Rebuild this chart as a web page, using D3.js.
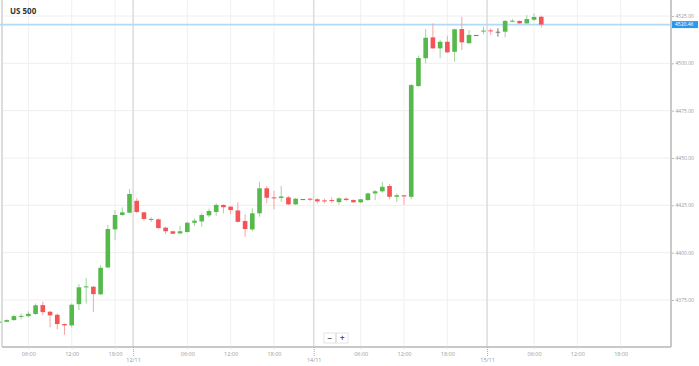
<!DOCTYPE html>
<html>
<head>
<meta charset="utf-8">
<script src="https://cdn.jsdelivr.net/npm/d3@7"></script>
<style>
  body { margin: 0; background: #fff; }
  svg { display: block; font-family: "Open Sans", "DejaVu Sans", sans-serif; }
</style>
</head>
<body>
<div id="chart"></div>
<script>
(function(d3) {
  'use strict';

  // hourly candles, left to right
  var opens = [4363.0, 4363.5, 4364.4, 4366.4, 4366.5, 4367.6, 4372.3, 4368.8, 4367.2, 4362.3,
    4361.6, 4372.8, 4381.7, 4382.0, 4378.0, 4392.2, 4412.3, 4419.9, 4421.1, 4427.4,
    4421.3, 4417.6, 4417.6, 4413.2, 4411.3, 4410.2, 4410.9, 4415.8, 4416.5, 4419.7,
    4421.5, 4425.2, 4424.3, 4422.3, 4416.7, 4412.3, 4420.8, 4434.0, 4429.2, 4428.9,
    4429.2, 4425.5, 4428.3, 4428.5, 4428.2, 4427.6, 4427.8, 4426.7, 4428.5, 4427.8,
    4426.6, 4427.8, 4431.3, 4432.4, 4435.2, 4429.5, 4430.3, 4429.5, 4488.0, 4502.7,
    4513.7, 4507.9, 4511.4, 4506.1, 4518.1, 4510.6, 4515.0, 4517.1, 4517.4, 4516.7,
    4516.7, 4522.4, 4522.4, 4521.1, 4523.0, 4524.6];
  var highs = [4364.0, 4364.8, 4367.2, 4367.9, 4369.0, 4373.2, 4374.1, 4369.3, 4367.9, 4362.6,
    4373.2, 4383.4, 4386.6, 4382.4, 4393.5, 4414.6, 4422.5, 4423.9, 4433.6, 4428.8,
    4421.6, 4418.7, 4418.1, 4413.7, 4411.4, 4414.1, 4416.3, 4418.1, 4420.8, 4423.2,
    4426.1, 4425.5, 4424.6, 4426.6, 4420.2, 4423.4, 4437.5, 4435.3, 4432.7, 4435.2,
    4429.9, 4428.9, 4428.3, 4428.9, 4428.7, 4428.5, 4429.2, 4429.2, 4429.2, 4428.2,
    4428.5, 4431.7, 4433.1, 4437.3, 4436.2, 4431.3, 4430.3, 4489.1, 4504.1, 4518.1,
    4521.1, 4512.3, 4514.6, 4518.3, 4524.6, 4517.6, 4515.0, 4519.3, 4518.5, 4518.5,
    4522.9, 4523.4, 4522.6, 4525.5, 4526.4, 4525.2];
  var lows = [4362.6, 4363.3, 4364.0, 4364.8, 4365.7, 4367.2, 4366.9, 4360.5, 4359.5, 4356.6,
    4360.5, 4369.7, 4373.2, 4368.6, 4377.6, 4392.0, 4406.7, 4419.4, 4420.9, 4420.8,
    4416.9, 4416.2, 4412.6, 4409.8, 4409.8, 4409.8, 4410.6, 4414.1, 4413.7, 4418.7,
    4419.4, 4420.8, 4420.4, 4415.9, 4408.4, 4411.4, 4419.0, 4426.1, 4422.9, 4426.9,
    4425.2, 4425.2, 4428.3, 4427.1, 4426.1, 4426.1, 4426.4, 4425.3, 4427.4, 4426.4,
    4426.1, 4427.4, 4427.8, 4431.7, 4428.2, 4426.7, 4425.2, 4428.2, 4487.5, 4500.0,
    4507.7, 4502.7, 4505.6, 4500.9, 4507.0, 4510.6, 4515.0, 4515.3, 4515.0, 4514.1,
    4513.7, 4521.7, 4520.9, 4520.9, 4522.4, 4518.8];
  var closes = [4363.6, 4364.4, 4366.5, 4366.6, 4367.7, 4372.2, 4368.6, 4366.9, 4362.3, 4361.6,
    4372.5, 4381.7, 4382.2, 4378.1, 4392.0, 4412.5, 4419.9, 4421.3, 4431.0, 4421.5,
    4417.8, 4417.8, 4413.0, 4411.3, 4410.0, 4411.3, 4415.8, 4416.9, 4419.9, 4422.0,
    4425.2, 4424.0, 4422.5, 4416.3, 4412.5, 4420.8, 4434.0, 4429.0, 4429.0, 4429.7,
    4425.5, 4428.5, 4428.3, 4428.2, 4427.1, 4427.1, 4427.3, 4428.7, 4427.8, 4426.6,
    4428.2, 4431.3, 4432.4, 4434.8, 4429.5, 4430.3, 4429.7, 4488.5, 4502.8, 4513.5,
    4507.9, 4511.4, 4505.8, 4518.0, 4511.1, 4515.0, 4515.0, 4517.3, 4517.1, 4516.7,
    4522.4, 4522.5, 4521.1, 4523.4, 4524.5, 4520.46];

  // axis ticks, in candle slots
  var timeTicks = [4, 10, 16, 26, 32, 38, 50, 56, 62, 74, 80, 86];
  var timeLabels = ['06:00', '12:00', '18:00', '06:00', '12:00', '18:00',
    '06:00', '12:00', '18:00', '06:00', '12:00', '18:00'];
  var dateTicks = [18.5, 43.5, 67.5];
  var dateLabels = ['12/11', '14/11', '15/11'];
  var priceTicks = [4375, 4400, 4425, 4450, 4475, 4500, 4525];

  var width = 699;
  var height = 366;
  var plotLeft = 2, plotRight = 671, plotTop = 0, plotBottom = 347;

  var candles = opens.map(function(o, i) {
    return { slot: i, open: o, high: highs[i], low: lows[i], close: closes[i] };
  });

  var x = d3.scaleLinear().domain([0.35, 92.96]).range([plotLeft, plotRight]);
  var y = d3.scaleLinear().domain([4375, 4525]).range([300, 16]);
  var step = x(1) - x(0);
  var bodyW = step * 0.64;

  var green = '#55b94b', red = '#f45457', flat = '#777';
  var greenWick = '#9fd69a', redWick = '#f7a4a6';

  var svg = d3.select('#chart')
    .append('svg')
    .attr('width', width)
    .attr('height', height);

  svg.append('clipPath').attr('id', 'plot-clip')
    .append('rect')
    .attr('x', 0).attr('y', plotTop)
    .attr('width', plotRight).attr('height', plotBottom - plotTop);

  // grid
  var grid = svg.append('g');
  grid.selectAll('.hgrid')
    .data(priceTicks)
    .enter()
    .append('line')
    .attr('x1', plotLeft).attr('x2', plotRight)
    .attr('y1', function(d) { return y(d); })
    .attr('y2', function(d) { return y(d); })
    .attr('stroke', '#eeeeee');
  grid.selectAll('.vgrid')
    .data(timeTicks)
    .enter()
    .append('line')
    .attr('x1', function(d) { return x(d); })
    .attr('x2', function(d) { return x(d); })
    .attr('y1', plotTop).attr('y2', plotBottom)
    .attr('stroke', '#f0f0f0');
  grid.selectAll('.dgrid')
    .data(dateTicks)
    .enter()
    .append('line')
    .attr('x1', function(d) { return x(d); })
    .attr('x2', function(d) { return x(d); })
    .attr('y1', plotTop).attr('y2', plotBottom)
    .attr('stroke', '#dcdcdc')
    .attr('stroke-width', 1.5);

  // title
  svg.append('text')
    .attr('x', 10).attr('y', 14)
    .attr('font-size', 8)
    .attr('font-weight', 'bold')
    .attr('fill', '#333')
    .text('US 500');

  // current price line
  var last = candles[candles.length - 1];
  svg.append('line')
    .attr('x1', 0).attr('x2', plotRight)
    .attr('y1', y(last.close)).attr('y2', y(last.close))
    .attr('stroke', '#b3d9f7')
    .attr('stroke-width', 1.8);

  // candles
  var plot = svg.append('g').attr('clip-path', 'url(#plot-clip)');
  var candle = plot.selectAll('.candle')
    .data(candles)
    .enter()
    .append('g');

  function colorOf(d, wick) {
    if (d.close > d.open) return wick ? greenWick : green;
    if (d.close < d.open) return wick ? redWick : red;
    return flat;
  }

  candle.append('line')
    .attr('x1', function(d) { return x(d.slot); })
    .attr('x2', function(d) { return x(d.slot); })
    .attr('y1', function(d) { return y(d.high); })
    .attr('y2', function(d) { return y(d.low); })
    .attr('stroke', function(d) { return colorOf(d, true); })
    .attr('stroke-width', 1);

  candle.append('rect')
    .attr('x', function(d) { return x(d.slot) - bodyW / 2; })
    .attr('width', bodyW)
    .attr('y', function(d) { return y(Math.max(d.open, d.close)); })
    .attr('height', function(d) { return Math.max(1, Math.abs(y(d.open) - y(d.close))); })
    .attr('fill', function(d) { return colorOf(d, false); });

  // frame
  svg.append('line')
    .attr('x1', plotLeft).attr('x2', plotLeft)
    .attr('y1', plotTop).attr('y2', plotBottom)
    .attr('stroke', '#d0d0d0').attr('stroke-width', 1.5);
  svg.append('line')
    .attr('x1', plotRight).attr('x2', plotRight)
    .attr('y1', plotTop).attr('y2', plotBottom)
    .attr('stroke', '#c8c8c8').attr('stroke-width', 2);

  // x axis
  var xAxis = d3.axisBottom(x)
    .tickValues(timeTicks)
    .tickFormat(function(d, i) { return timeLabels[i]; })
    .tickSize(2)
    .tickPadding(3);
  var gx = svg.append('g')
    .attr('transform', 'translate(0,' + plotBottom + ')')
    .call(xAxis);
  gx.select('.domain')
    .attr('d', 'M' + plotLeft + ',0H' + plotRight)
    .attr('stroke', '#c8c8c8').attr('stroke-width', 2);
  gx.selectAll('.tick line').attr('stroke', '#ddd');
  gx.selectAll('.tick text')
    .attr('font-size', 5.5)
    .attr('fill', '#999')
    .attr('font-family', '"Open Sans", sans-serif');

  var dateAxis = d3.axisBottom(x)
    .tickValues(dateTicks)
    .tickFormat(function(d, i) { return dateLabels[i]; })
    .tickSize(9)
    .tickPadding(2);
  var gd = svg.append('g')
    .attr('transform', 'translate(0,' + plotBottom + ')')
    .call(dateAxis);
  gd.select('.domain').remove();
  gd.selectAll('.tick line')
    .attr('stroke', '#aaa')
    .attr('stroke-dasharray', '1,1');
  gd.selectAll('.tick text')
    .attr('font-size', 5.5)
    .attr('fill', '#999')
    .attr('font-family', '"Open Sans", sans-serif');

  // y axis
  var yAxis = d3.axisRight(y)
    .tickValues(priceTicks)
    .tickFormat(function(d) { return d.toFixed(2); })
    .tickSize(2)
    .tickPadding(1.5);
  var gy = svg.append('g')
    .attr('transform', 'translate(' + (plotRight + 1) + ',0)')
    .call(yAxis);
  gy.select('.domain').remove();
  gy.selectAll('.tick line').attr('stroke', '#bbb');
  gy.selectAll('.tick text')
    .attr('font-size', 5)
    .attr('fill', '#999')
    .attr('font-family', '"Open Sans", sans-serif');

  // price tag
  var tag = svg.append('g')
    .attr('transform', 'translate(' + (plotRight + 1) + ',' + y(last.close) + ')');
  tag.append('rect')
    .attr('x', 0).attr('y', -3.5)
    .attr('width', 26).attr('height', 7)
    .attr('fill', '#2b98ee');
  tag.append('text')
    .attr('x', 3).attr('y', 0)
    .attr('dy', '0.35em')
    .attr('font-size', 5)
    .attr('fill', '#fff')
    .text(last.close.toFixed(2));

  // zoom buttons
  var btn = svg.append('g').attr('transform', 'translate(324,333)');
  ['\u2212', '+'].forEach(function(s, i) {
    btn.append('rect')
      .attr('x', i * 12.5).attr('y', 0)
      .attr('width', 11.5).attr('height', 10)
      .attr('fill', '#fff')
      .attr('stroke', '#e4e4e4');
    btn.append('text')
      .attr('x', i * 12.5 + 5.75).attr('y', 5)
      .attr('dy', '0.35em')
      .attr('text-anchor', 'middle')
      .attr('font-size', 8)
      .attr('font-weight', 'bold')
      .attr('fill', '#555')
      .text(s);
  });
})(window.d3);
</script>
</body>
</html>
